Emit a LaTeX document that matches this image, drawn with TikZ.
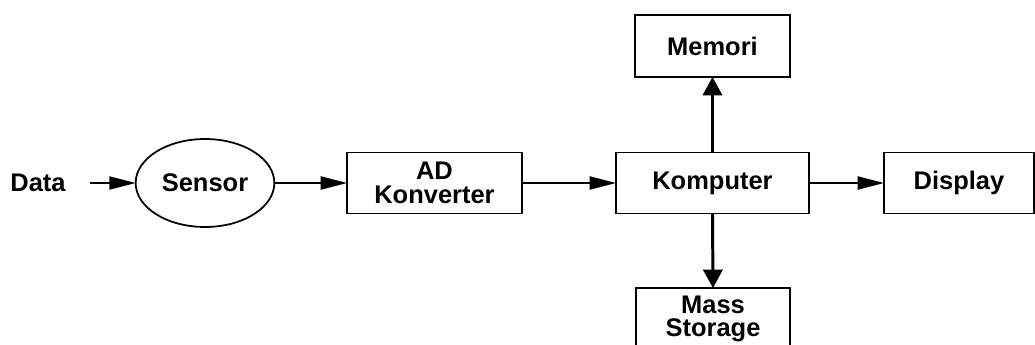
\documentclass[tikz,border=0pt]{standalone}
\usepackage{fontspec}
\setmainfont{Liberation Sans}
\usetikzlibrary{arrows.meta,shapes.geometric,positioning}

\begin{document}
\begin{tikzpicture}[x=0.02cm, y=-0.02cm,
  font=\fontsize{14.5}{13.5}\selectfont\bfseries,
  blok/.style={draw, line width=1pt, outer sep=0pt, align=center, minimum height=1.22cm},
  alur/.style={-{Triangle[length=15pt, width=7.5pt]}, line width=0.9pt},
  alurv/.style={-{Triangle[length=10.5pt, width=11pt]}, line width=1.7pt}]

% frame of the picture (bottom box runs off the page)
\clip (0,0) rectangle (1035,345);

% ============ INPUT ============
\node (data) at (38,183) {Data};
\node[ellipse, draw, line width=1pt, outer sep=0pt, minimum width=2.74cm,
  minimum height=1.76cm] (sensor) at (205,183) {Sensor};

% ============ MAIN CHAIN ============
\node[blok, minimum width=3.5cm] (adk) at (434.5,183) {AD\\Konverter};
\node[blok, minimum width=3.86cm] (komp) at (712.5,183) {Komputer};
\node[blok, minimum width=3.0cm] (display) at (959,183) {Display};

% Memori (top) and Mass Storage (bottom)
\node[blok, minimum width=3.1cm, minimum height=1.24cm] (memori) at (712.5,46) {Memori};
\node[blok, minimum width=3.08cm, minimum height=1.24cm] (mass) at (713,319) {Mass\\Storage};

% Arrows
\draw[alur, shorten <=0.36cm] (data.east) -- (sensor.west);
\draw[alur] (sensor.east) -- (adk.west);
\draw[alur] (adk.east) -- (komp.west);
\draw[alur] (komp.east) -- (display.west);
\draw[alurv] (komp.north) -- (memori.south);
\draw[alurv] (komp.south) -- (mass.north);

\end{tikzpicture}
\end{document}
